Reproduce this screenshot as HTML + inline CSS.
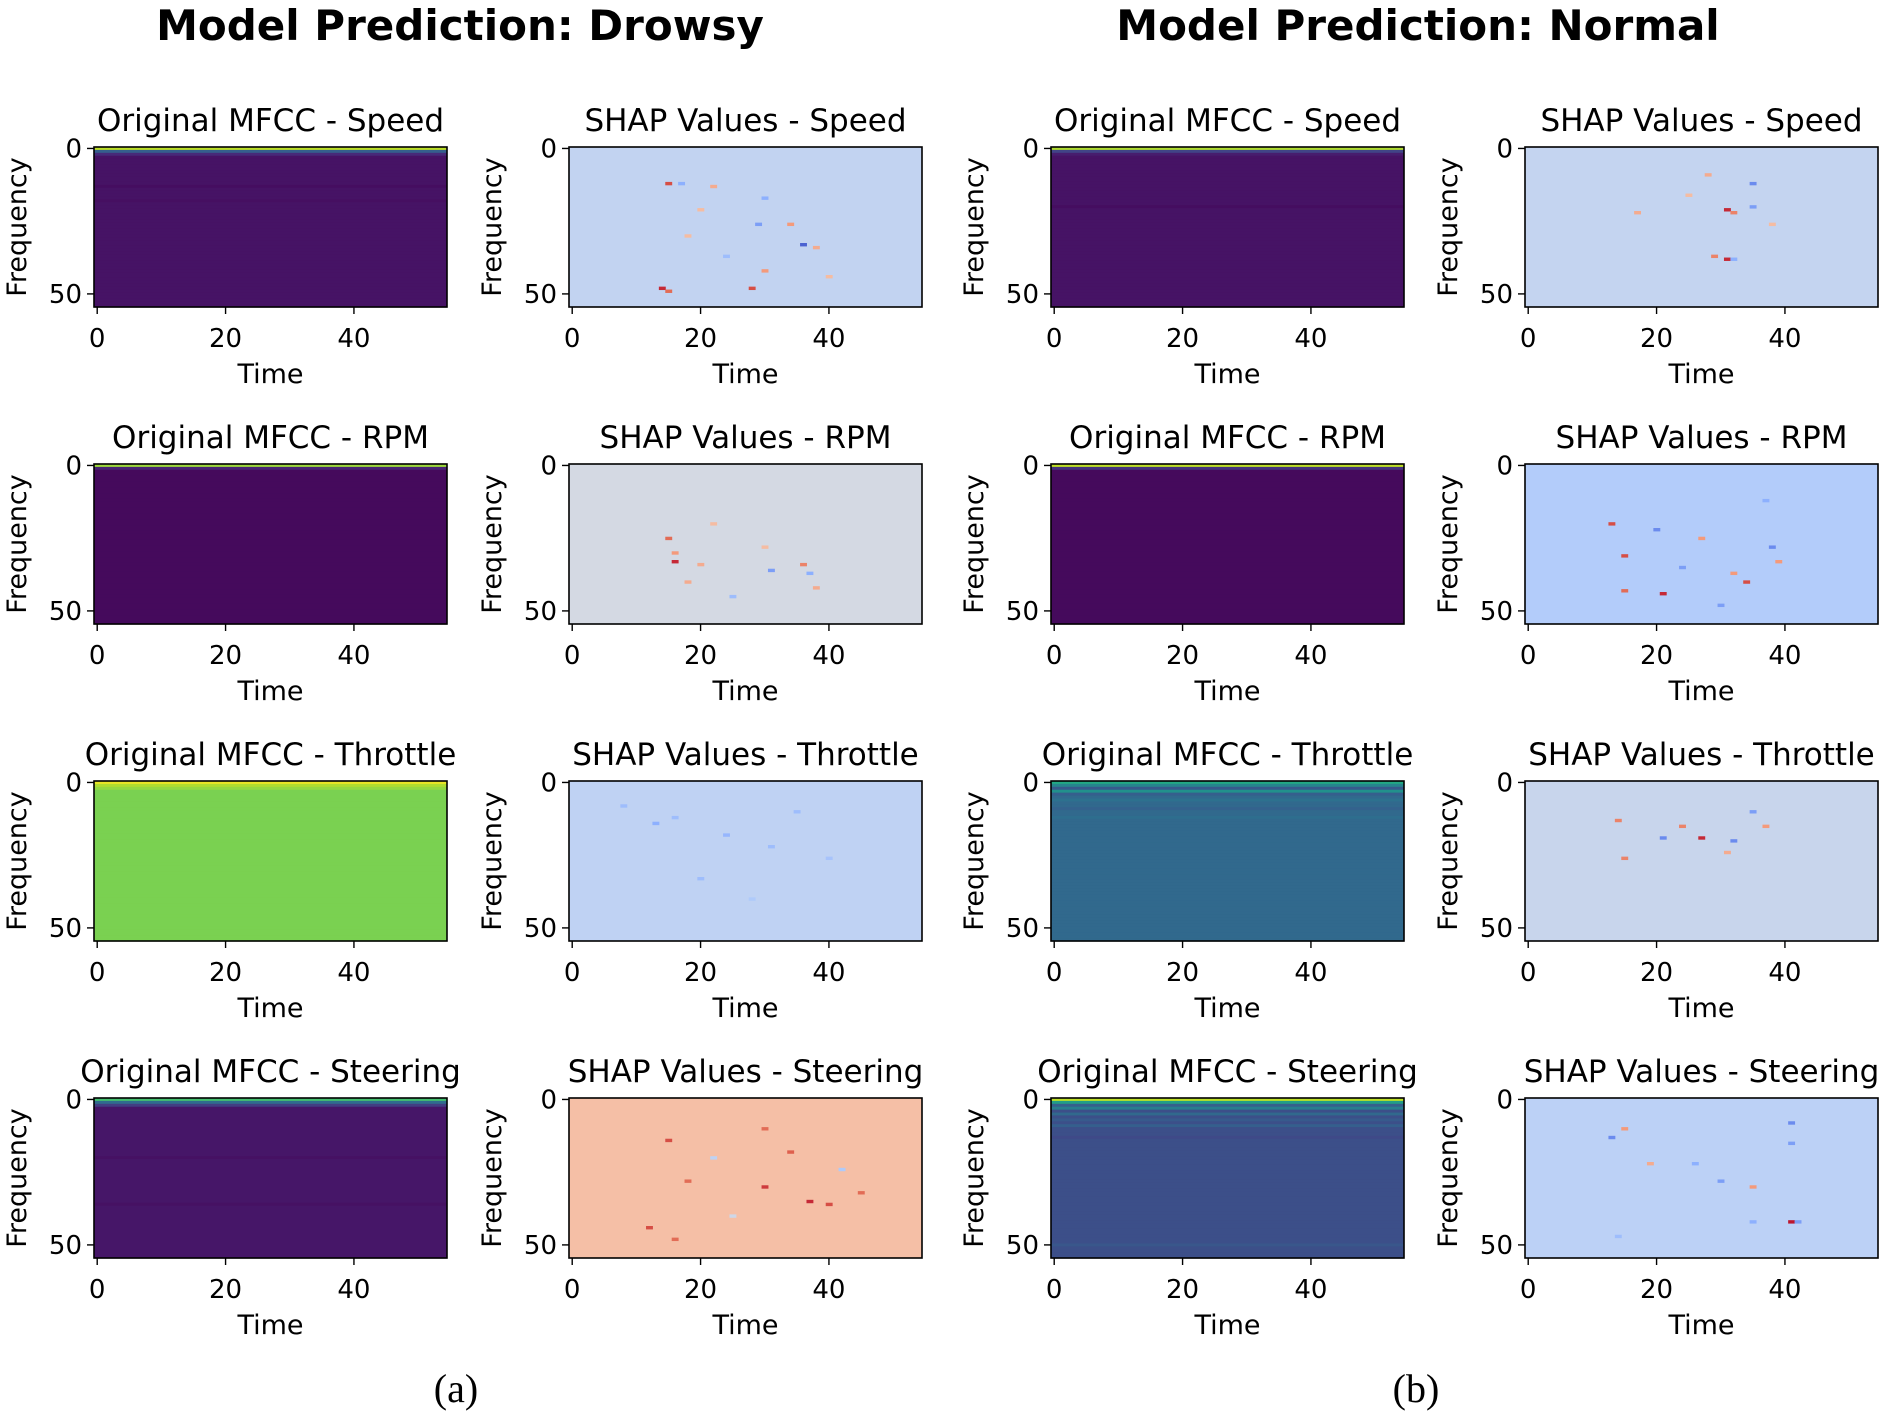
<!DOCTYPE html>
<html><head><meta charset="utf-8"><style>
html,body{margin:0;padding:0;background:#fff;}
svg{display:block;font-family:"DejaVu Sans","Liberation Sans",sans-serif;}
</style></head><body>
<svg id="fig" width="1890" height="1419" viewBox="0 0 1890 1419" xmlns="http://www.w3.org/2000/svg">
<rect width="1890" height="1419" fill="#fff"/>
<text x="460" y="40" font-size="42" font-weight="bold" text-anchor="middle">Model Prediction: Drowsy</text>
<text x="1418" y="40" font-size="42" font-weight="bold" text-anchor="middle">Model Prediction: Normal</text>
<text x="456" y="1402" font-size="40" text-anchor="middle" font-family="Liberation Serif, serif">(a)</text>
<text x="1416" y="1402" font-size="40" text-anchor="middle" font-family="Liberation Serif, serif">(b)</text>
</svg>
<script>
// ---- data ----
const nRows = 55, nCols = 55;
const xTicks = [0, 20, 40];
const yTicks = [0, 50];
const colLefts = [94, 569, 1051, 1525];
const rowTops = [147, 464, 781, 1098];
const features = ["Speed", "RPM", "Throttle", "Steering"];
// MFCC: base value (viridis 0..1) and [row, value] overrides
const mfccBase = [[0.05, 0.025, 0.8, 0.06], [0.05, 0.025, 0.34, 0.24]];
const mfccRowsDrowsy = [
  [[0,0.9],[1,0.3],[2,0.12],[13,0.035],[18,0.04]],
  [[0,0.85],[1,0.1]],
  [[0,0.97],[1,0.88],[2,0.84]],
  [[0,0.7],[1,0.35],[2,0.18],[20,0.045],[36,0.045]]
];
const mfccRowsNormal = [
  [[0,0.88],[1,0.2],[2,0.08],[20,0.035]],
  [[0,0.9],[1,0.15]],
  [[0,0.6],[1,0.45],[2,0.28],[3,0.5],[4,0.3],[6,0.37],[9,0.31],[12,0.36]],
  [[0,0.9],[1,0.55],[2,0.3],[3,0.42],[5,0.34],[7,0.28],[9,0.3],[13,0.22],[50,0.27]]
];
// SHAP: base value (coolwarm -1..1) and [row, col, value] cells
const shapBase = [[-0.18, -0.06, -0.2, 0.28], [-0.17, -0.28, -0.14, -0.22]];
const shapCellsDrowsy = [
  [[12,15,0.8],[12,17,-0.5],[13,22,0.4],[17,30,-0.5],[26,29,-0.6],[26,34,0.5],[33,36,-0.9],[34,38,0.4],[42,30,0.5],[48,14,0.9],[49,15,0.7],[48,28,0.8],[21,20,0.3],[37,24,-0.4],[44,40,0.3],[30,18,0.3]],
  [[25,15,0.7],[30,16,0.5],[33,16,0.9],[34,20,0.4],[36,31,-0.6],[37,37,-0.5],[34,36,0.6],[40,18,0.4],[20,22,0.3],[45,25,-0.4],[28,30,0.3],[42,38,0.4]],
  [[14,13,-0.5],[12,16,-0.4],[18,24,-0.45],[22,31,-0.4],[10,35,-0.4],[26,40,-0.35],[33,20,-0.4],[40,28,-0.3],[8,8,-0.4]],
  [[14,15,0.8],[20,22,-0.2],[30,30,0.85],[35,37,0.9],[36,40,0.8],[24,42,-0.3],[28,18,0.7],[44,12,0.8],[48,16,0.7],[10,30,0.7],[40,25,-0.1],[18,34,0.75],[32,45,0.7]]
];
const shapCellsNormal = [
  [[21,31,0.9],[22,32,0.6],[12,35,-0.7],[20,35,-0.6],[38,31,0.9],[38,32,-0.5],[37,29,0.6],[22,17,0.4],[16,25,0.3],[26,38,0.3],[9,28,0.4]],
  [[20,13,0.8],[22,20,-0.7],[31,15,0.8],[35,24,-0.6],[37,32,0.5],[40,34,0.8],[43,15,0.7],[44,21,0.9],[28,38,-0.7],[33,39,0.5],[48,30,-0.6],[25,27,0.5],[12,37,-0.5]],
  [[19,21,-0.7],[19,27,0.9],[15,24,0.6],[20,32,-0.7],[13,14,0.6],[26,15,0.6],[10,35,-0.6],[15,37,0.5],[24,31,0.4]],
  [[10,15,0.5],[13,13,-0.7],[8,41,-0.7],[15,41,-0.6],[42,41,0.95],[42,42,-0.6],[42,35,-0.5],[22,26,-0.5],[28,30,-0.6],[30,35,0.5],[47,14,-0.4],[22,19,0.4]]
];

// ---- colormaps ----
const viridisStops = ["#440154","#482475","#414487","#355f8d","#2a788e","#21918c","#22a884","#44bf70","#7ad151","#bddf26","#fde725"];
const coolwarmStops = ["#3b4cc0","#6282ea","#8db0fe","#b8d0f9","#dddcdc","#f5c4ac","#f49a7b","#de604d","#b40426"];
function hex(h){return [parseInt(h.substr(1,2),16),parseInt(h.substr(3,2),16),parseInt(h.substr(5,2),16)];}
function interp(stops,t){t=Math.max(0,Math.min(1,t));const p=t*(stops.length-1);const i=Math.min(Math.floor(p),stops.length-2);const f=p-i;const a=hex(stops[i]),b=hex(stops[i+1]);return "rgb("+a.map((v,k)=>Math.round(v+(b[k]-v)*f)).join(",")+")";}
const viridis = v => interp(viridisStops, v);
const coolwarm = v => interp(coolwarmStops, (v+1)/2);

const NS = "http://www.w3.org/2000/svg";
const svg = document.getElementById("fig");
const PW = 353, PH = 160;
function mk(tag, attrs, parent){const e=document.createElementNS(NS,tag);for(const k in attrs)e.setAttribute(k,attrs[k]);(parent||svg).appendChild(e);return e;}

function drawPanel(left, top, title, kind, base, list, key){
  const g = mk("g", {});
  
  
  const cw = PW / nCols, ch = PH / nRows;
  const xS = c => left + c * cw;
  const yS = r => top + r * ch;
  if (kind === "mfcc") {
    const rowVals = new Array(nRows).fill(base);
    list.forEach(([r, v]) => rowVals[r] = v);
    rowVals.forEach((v, r) => {
      const rc = mk("rect", {x: xS(0), y: yS(r), width: PW, height: ch + 0.6, fill: viridis(v)}, g);
      
      
    });
  } else {
    const bg = mk("rect", {x: xS(0), y: yS(0), width: PW, height: PH, fill: coolwarm(base)}, g);
    
    
    list.forEach(([r, c, v]) => {
      const rc = mk("rect", {x: xS(c), y: yS(r), width: cw + 0.5, height: ch + 0.5, fill: coolwarm(v)}, g);
      
      
    });
  }
  mk("rect", {x: left, y: top, width: PW, height: PH, fill: "none", stroke: "#000", "stroke-width": 1.6}, g);
  xTicks.forEach(t => {
    const x = xS(t + 0.5);
    mk("line", {x1: x, x2: x, y1: top + PH, y2: top + PH + 7, stroke: "#000", "stroke-width": 1.4}, g);
    const tx = mk("text", {x: x, y: top + PH + 40, "font-size": 26, "text-anchor": "middle"}, g);
    tx.textContent = t;
    
    
  });
  yTicks.forEach(t => {
    const y = yS(t + 0.5);
    mk("line", {x1: left, x2: left - 7, y1: y, y2: y, stroke: "#000", "stroke-width": 1.4}, g);
    const tx = mk("text", {x: left - 12, y: y + 9, "font-size": 26, "text-anchor": "end"}, g);
    tx.textContent = t;
    
    
  });
  const xl = mk("text", {x: left + PW / 2, y: top + PH + 76, "font-size": 27, "text-anchor": "middle"}, g);
  xl.textContent = "Time";
  
  
  const yl = mk("text", {x: 0, y: 0, "font-size": 27, "text-anchor": "middle", transform: "translate(" + (left - 68) + "," + (top + PH / 2) + ") rotate(-90)"}, g);
  yl.textContent = "Frequency";
  
  
  const tt = mk("text", {x: left + PW / 2, y: top - 16, "font-size": 31, "text-anchor": "middle"}, g);
  tt.textContent = title;
  
  
}

for (let side = 0; side < 2; side++) {
  for (let f = 0; f < 4; f++) {
    const mRows = side === 0 ? mfccRowsDrowsy : mfccRowsNormal;
    const sCells = side === 0 ? shapCellsDrowsy : shapCellsNormal;
    const tag = (side === 0 ? "drowsy-" : "normal-") + features[f].toLowerCase();
    drawPanel(colLefts[side * 2], rowTops[f], "Original MFCC - " + features[f], "mfcc", mfccBase[side][f], mRows[f], tag + "-mfcc");
    drawPanel(colLefts[side * 2 + 1], rowTops[f], "SHAP Values - " + features[f], "shap", shapBase[side][f], sCells[f], tag + "-shap");
  }
}
</script>
</body></html>
